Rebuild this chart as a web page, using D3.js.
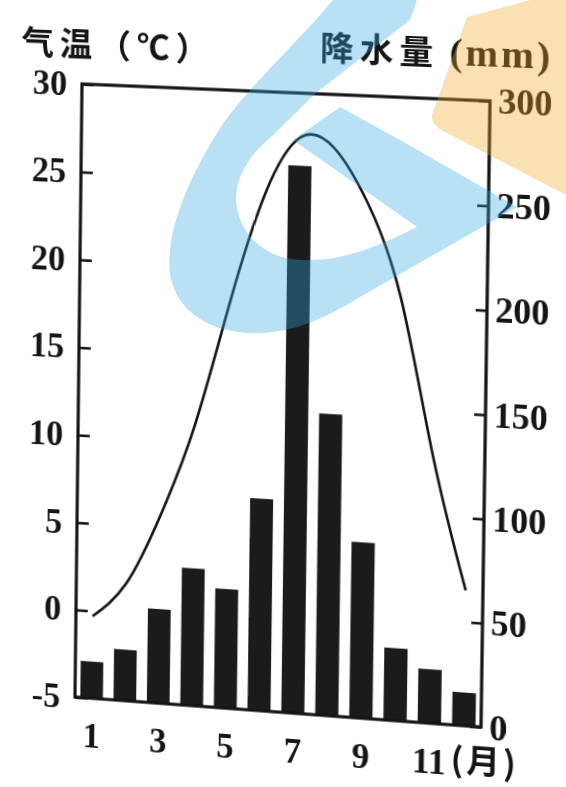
<!DOCTYPE html>
<head>
  <meta charset="utf-8">
  <script src="https://cdn.jsdelivr.net/npm/d3@7/dist/d3.min.js"></script>
  <style>
    body { margin: 0; background: #fff; }
    .wrap { position: relative; width: 566px; height: 787px; overflow: hidden; background: #fff; }
    svg { position: absolute; left: 0; top: 0; overflow: visible; }
    #chart { transform-origin: 0 0; }
    .num { font-family: "Liberation Serif", "DejaVu Serif", serif; font-weight: 700; font-size: 35px; fill: #151515; }
    .cjk { font-family: "Noto Sans CJK SC", sans-serif; font-weight: 700; font-size: 33px; fill: #151515; }
  </style>
</head>

<body>
  <div class="wrap">
    <svg id="chart" width="566" height="787"></svg>
    <svg id="mark" width="566" height="787"></svg>
  </div>

  <script>
    // monthly data
    var months = ['1', '2', '3', '4', '5', '6', '7', '8', '9', '10', '11', '12'];
    var temperature = [-0.3, 1.7, 5.7, 11.0, 18.1, 24.3, 27.5, 27.0, 24.0, 18.8, 10.0, 2.6];
    var precipitation = [18, 25, 46, 67, 58, 103, 265, 146, 85, 35, 26, 16];
    var tempTicks = [-5, 0, 5, 10, 15, 20, 25, 30];
    var precipTicks = [0, 50, 100, 150, 200, 250, 300];
    var monthTicks = ['1', '3', '5', '7', '9', '11'];

    var x0 = 80, y0 = 92, W = 405, H = 620;

    var svg = d3.select('#chart');
    var g = svg.append('g').attr('transform', 'translate(' + [x0, y0] + ')');

    var x = d3.scaleBand().domain(months).range([0, W])
      .paddingInner(0.32).paddingOuter(0.16);
    var yT = d3.scaleLinear().domain([-5, 30]).range([H, 0]);
    var yP = d3.scaleLinear().domain([0, 300]).range([H, 0]);

    // precipitation bars
    g.selectAll('rect.bar')
      .data(precipitation).enter().append('rect')
      .attr('class', 'bar')
      .attr('x', function(d, i) { return x(months[i]); })
      .attr('width', x.bandwidth())
      .attr('y', function(d) { return yP(d); })
      .attr('height', function(d) { return H - yP(d); })
      .attr('fill', '#1b1b1b');

    // temperature curve
    var line = d3.line()
      .x(function(d, i) { return x(months[i]) + x.bandwidth() / 2; })
      .y(function(d) { return yT(d); })
      .curve(d3.curveNatural);
    g.append('path')
      .datum(temperature)
      .attr('d', line)
      .attr('fill', 'none')
      .attr('stroke', '#151515')
      .attr('stroke-width', 2.6);

    // frame
    g.append('rect')
      .attr('width', W).attr('height', H)
      .attr('fill', 'none').attr('stroke', '#151515').attr('stroke-width', 3.2);

    var left = g.append('g')
      .call(d3.axisLeft(yT).tickValues(tempTicks).tickFormat(function(d) { return String(d); })
        .tickSizeInner(-12).tickSizeOuter(0).tickPadding(15));
    var right = g.append('g').attr('transform', 'translate(' + W + ',0)')
      .call(d3.axisRight(yP).tickValues(precipTicks)
        .tickSizeInner(-11).tickSizeOuter(0).tickPadding(8));
    var bottom = g.append('g').attr('transform', 'translate(0,' + H + ')')
      .call(d3.axisBottom(x).tickValues(monthTicks).tickSize(0).tickPadding(22));

    [left, right, bottom].forEach(function(a) {
      a.select('.domain').remove();
      a.selectAll('line').attr('stroke', '#151515').attr('stroke-width', 2.6);
      a.selectAll('text').attr('class', 'num').attr('fill', null).style('font-size', null);
      a.attr('font-family', null).attr('font-size', null);
    });
    bottom.selectAll('text').attr('dy', '0.8em');

    g.append('text').attr('class', 'cjk')
      .attr('x', x('12') - 1).attr('y', H + 46)
      .attr('letter-spacing', 3)
      .text('(月)');

    // axis titles
    g.append('text').attr('class', 'cjk')
      .attr('x', -62).attr('y', -28)
      .attr('letter-spacing', 6)
      .text('气温（℃）');
    var t2 = g.append('text').attr('class', 'cjk')
      .attr('x', 238).attr('y', -34)
      .attr('letter-spacing', 6);
    t2.append('tspan').text('降水量');
    t2.append('tspan').attr('class', 'num').attr('dx', 10)
      .attr('letter-spacing', 3).style('font-size', '38px').text('(mm)');

    // the scan is photographed slightly off-square: map the frame corners
    // onto where they sit in the picture with a perspective transform
    function homography(src, dst) {
      var A = [];
      for (var i = 0; i < 4; i++) {
        var sx = src[i][0], sy = src[i][1], u = dst[i][0], v = dst[i][1];
        A.push([sx, sy, 1, 0, 0, 0, -sx * u, -sy * u, u]);
        A.push([0, 0, 0, sx, sy, 1, -sx * v, -sy * v, v]);
      }
      for (var c = 0; c < 8; c++) {
        var p = c;
        for (var r = c + 1; r < 8; r++) if (Math.abs(A[r][c]) > Math.abs(A[p][c])) p = r;
        var tmp = A[c]; A[c] = A[p]; A[p] = tmp;
        for (var r2 = 0; r2 < 8; r2++) {
          if (r2 === c) continue;
          var f = A[r2][c] / A[c][c];
          for (var k = c; k < 9; k++) A[r2][k] -= f * A[c][k];
        }
      }
      return A.map(function(row, i) { return row[8] / row[i]; });
    }
    var h = homography(
      [[x0, y0], [x0 + W, y0], [x0 + W, y0 + H], [x0, y0 + H]],
      [[82, 84], [490, 101], [481, 727], [75, 697]]);
    svg.style('transform', 'matrix3d(' + [h[0], h[3], 0, h[6], h[1], h[4], 0, h[7],
      0, 0, 1, 0, h[2], h[5], 0, 1].join(',') + ')');

    // watermark shapes printed over the scan
    var mark = d3.select('#mark');
    mark.append('path')
      .attr('d', 'M333,0 C300,40 250,85 222,125 C190,175 165,230 170,275 C178,318 220,335 262,333 ' +
        'C300,331 330,315 360,297 L517,207 L400,140 L340,107 L293,140 L417,227 ' +
        'C380,245 345,262 300,260 C262,258 238,232 236,200 C236,175 250,155 270,138 ' +
        'L317,92 L410,20 L417,0 Z')
      .attr('fill', 'rgb(52,169,229)').attr('fill-opacity', 0.35);
    mark.append('path')
      .attr('d', 'M467,17 L530,0 L566,0 L566,195 L445,132 Q428,124 433,112 Z')
      .attr('fill', 'rgb(241,169,41)').attr('fill-opacity', 0.35);
  </script>
</body>
